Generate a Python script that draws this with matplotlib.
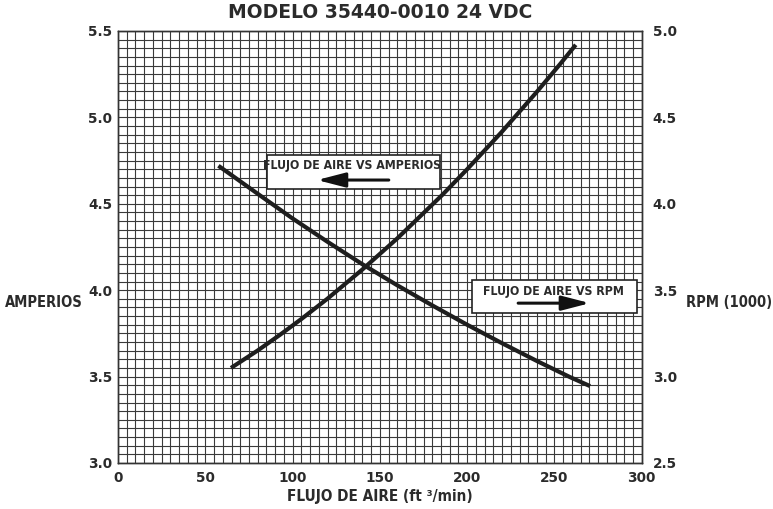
import numpy as np
import matplotlib
matplotlib.use("Agg")
import matplotlib.pyplot as plt

# valores
flujo_amp = [57.5, 70, 82.5, 100, 120, 140, 160, 180, 200, 220, 240, 258.9, 270.4]
amperios = [4.72, 4.63, 4.54, 4.415, 4.28, 4.15, 4.028, 3.912, 3.80, 3.693, 3.59, 3.497, 3.445]

flujo_rpm = [64.7, 80, 92.8, 105, 120, 140, 160, 185.6, 200, 220, 240, 253.2, 262.2]
rpm = [3.05, 3.151, 3.242, 3.333, 3.451, 3.62, 3.80, 4.05, 4.20, 4.418, 4.649, 4.808, 4.92]

x_ticks = [0, 50, 100, 150, 200, 250, 300]
amp_ticks = [3.0, 3.5, 4.0, 4.5, 5.0, 5.5]
rpm_ticks = [2.5, 3.0, 3.5, 4.0, 4.5, 5.0]

txt_color = '#2b2b2b'
line_color = '#1e1e1e'
cond = dict(family='DejaVu Sans', fontstretch='condensed', fontweight='bold', color=txt_color)
tick = dict(family='DejaVu Sans', fontweight='bold', fontsize=9.8, color=txt_color)

fig = plt.figure(figsize=(7.73, 5.09), dpi=100)
ax = fig.add_axes([0.1527, 0.0904, 0.6775, 0.8487])
ax2 = ax.twinx()

ax.set_xlim(0, 300)
ax.set_ylim(3.0, 5.5)
ax2.set_ylim(2.5, 5.0)

# cuadricula cada 5 cfm y 0.05
ax.set_xticks(x_ticks)
ax.set_xticks(np.arange(0, 301, 5), minor=True)
ax.set_yticks(amp_ticks)
ax.set_yticks(np.linspace(3.0, 5.5, 51), minor=True)
ax2.set_yticks(rpm_ticks)
ax.grid(True, which='both', color='#3a3a3a', lw=0.8)
ax.set_axisbelow(True)
for a in (ax, ax2):
    a.tick_params(which='both', length=0)
    for s in a.spines.values():
        s.set_color('#333333')
        s.set_linewidth(1.0)

ax.set_xticklabels([str(v) for v in x_ticks], **tick)
ax.set_yticklabels([f"{v:.1f}" for v in amp_ticks], **tick)
ax2.set_yticklabels([f"{v:.1f}" for v in rpm_ticks], **tick)
ax.tick_params(axis='x', pad=6)
ax.tick_params(axis='y', pad=4)
ax2.tick_params(axis='y', pad=8)

ax.plot(flujo_amp, amperios, color=line_color, lw=3, solid_capstyle='butt', zorder=5)
ax2.plot(flujo_rpm, rpm, color=line_color, lw=3, solid_capstyle='butt', zorder=5)

fig.text(0.4916, 0.975, 'MODELO 35440-0010 24 VDC', ha='center', va='center',
         family='DejaVu Sans', fontweight='bold', fontsize=13.5, color=txt_color)
fig.text(0.057, 0.405, 'AMPERIOS', ha='center', va='center', fontsize=10.5, **cond)
fig.text(0.943, 0.405, 'RPM (1000)', ha='center', va='center', fontsize=10.5, **cond)
fig.text(0.4916, 0.025, 'FLUJO DE AIRE (ft ³/min)', ha='center', va='center',
         fontsize=11, **cond)

# cuadros de leyenda
def caja(x0, y0, x1, y1, texto, tx, ty, ax_from, ax_to, ay):
    r = plt.Rectangle((x0, y0), x1 - x0, y1 - y0, transform=ax2.transAxes,
                      facecolor='white', edgecolor='#222222', lw=1.2, zorder=6)
    ax2.add_patch(r)
    ax2.text(tx, ty, texto, transform=ax2.transAxes, ha='center', va='center',
             fontsize=8.8, zorder=7, **cond)
    ax2.annotate('', xy=(ax_to, ay), xytext=(ax_from, ay), xycoords='axes fraction',
                 arrowprops=dict(arrowstyle='-|>,head_length=0.85,head_width=0.22', lw=2.2,
                                 color='#111111', mutation_scale=20, shrinkA=0, shrinkB=0),
                 zorder=7)

caja(0.284, 0.634, 0.615, 0.713, 'FLUJO DE AIRE VS AMPERIOS', 0.446, 0.688, 0.517, 0.380, 0.655)
caja(0.675, 0.347, 0.990, 0.424, 'FLUJO DE AIRE VS RPM', 0.831, 0.398, 0.764, 0.901, 0.370)

fig.savefig('out.png', dpi=100)
